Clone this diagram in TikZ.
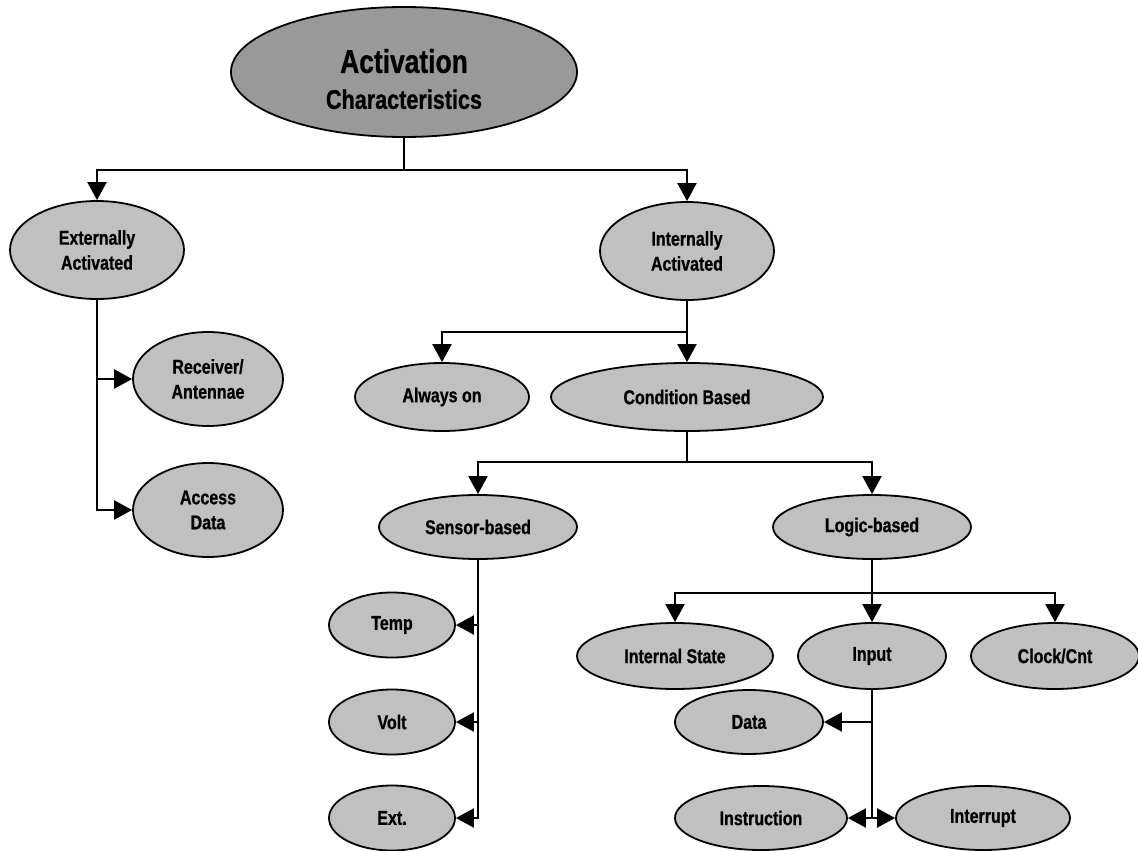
\documentclass[tikz,border=0pt]{standalone}
\usepackage{fontspec}
\setmainfont{Liberation Sans}[FakeStretch=0.8,BoldFeatures={FakeBold=0.8}]
\usetikzlibrary{shapes.geometric,arrows.meta}
\definecolor{rootfill}{HTML}{999999}
\definecolor{nodefill}{HTML}{C0C0C0}
\begin{document}
\begin{tikzpicture}[x=1pt,y=-1pt,
  oval/.style args={#1/#2}{ellipse,draw=black,line width=1.8pt,fill=nodefill,
    inner sep=0pt,minimum width=#1pt,minimum height=#2pt,align=center,
    font=\fontsize{20}{25}\selectfont\bfseries},
  link/.style={line width=2.2pt,line join=miter},
  arr/.style={link,-{Triangle[length=18pt,width=19pt]}}]
\useasboundingbox (0,0) rectangle (1138,851);

% nodes
\node[oval=346/130,fill=rootfill,font=\fontsize{27}{36}\selectfont\bfseries] (root) at (404,72)
  {\rule{0pt}{38pt}{\fontsize{33}{36}\selectfont Activation}\\Characteristics};
\node[oval=174/98] (ext) at (97,250) {Externally\\Activated};
\node[oval=174/98] (int) at (687,251) {Internally\\Activated};
\node[oval=150/94] (rec) at (208,379) {Receiver/\\Antennae};
\node[oval=150/94] (acc) at (208,510) {Access\\Data};
\node[oval=174/68] (always) at (442,397) {Always on};
\node[oval=272/68] (cond) at (687,397) {Condition Based};
\node[oval=198/64] (sensor) at (478,527) {Sensor-based};
\node[oval=198/64] (logic) at (872,527) {Logic-based};
\node[oval=126/65] (temp) at (392,625) {Temp};
\node[oval=126/65] (volt) at (392,722) {Volt};
\node[oval=126/65] (extn) at (392,818) {Ext.};
\node[oval=196/66] (istate) at (675,656) {Internal State};
\node[oval=148/66] (input) at (872,656) {Input};
\node[oval=168/66] (clock) at (1055,656) {Clock/Cnt};
\node[oval=148/64] (data) at (749,722) {Data};
\node[oval=172/64] (instr) at (761,818) {Instruction};
\node[oval=174/64] (intr) at (983,818) {Interrupt};

% junction points
\coordinate (j1) at (404,170);
\coordinate (j2) at (687,332);
\coordinate (j3) at (687,462);
\coordinate (j4) at (872,593);

% connectors
\draw[link] (root.south) -- (j1);
\draw[arr] (j1) -| (ext.north);
\draw[arr] (j1) -| (int.north);

\draw[arr] (ext.south) |- (acc.west);
\draw[arr] (ext.south |- rec.west) -- (rec.west);

\draw[link] (int.south) -- (j2);
\draw[arr] (j2) -| (always.north);
\draw[arr] (j2) -- (cond.north);

\draw[link] (cond.south) -- (j3);
\draw[arr] (j3) -| (sensor.north);
\draw[arr] (j3) -| (logic.north);

\draw[arr] (sensor.south) |- (extn.east);
\draw[arr] (sensor.south |- temp.east) -- (temp.east);
\draw[arr] (sensor.south |- volt.east) -- (volt.east);

\draw[link] (logic.south) -- (j4);
\draw[arr] (j4) -| (istate.north);
\draw[arr] (j4) -- (input.north);
\draw[arr] (j4) -| (clock.north);

\draw[arr] (input.south) |- (instr.east);
\draw[arr] (input.south |- intr.west) -- (intr.west);
\draw[arr] (input.south |- data.east) -- (data.east);
\end{tikzpicture}
\end{document}
